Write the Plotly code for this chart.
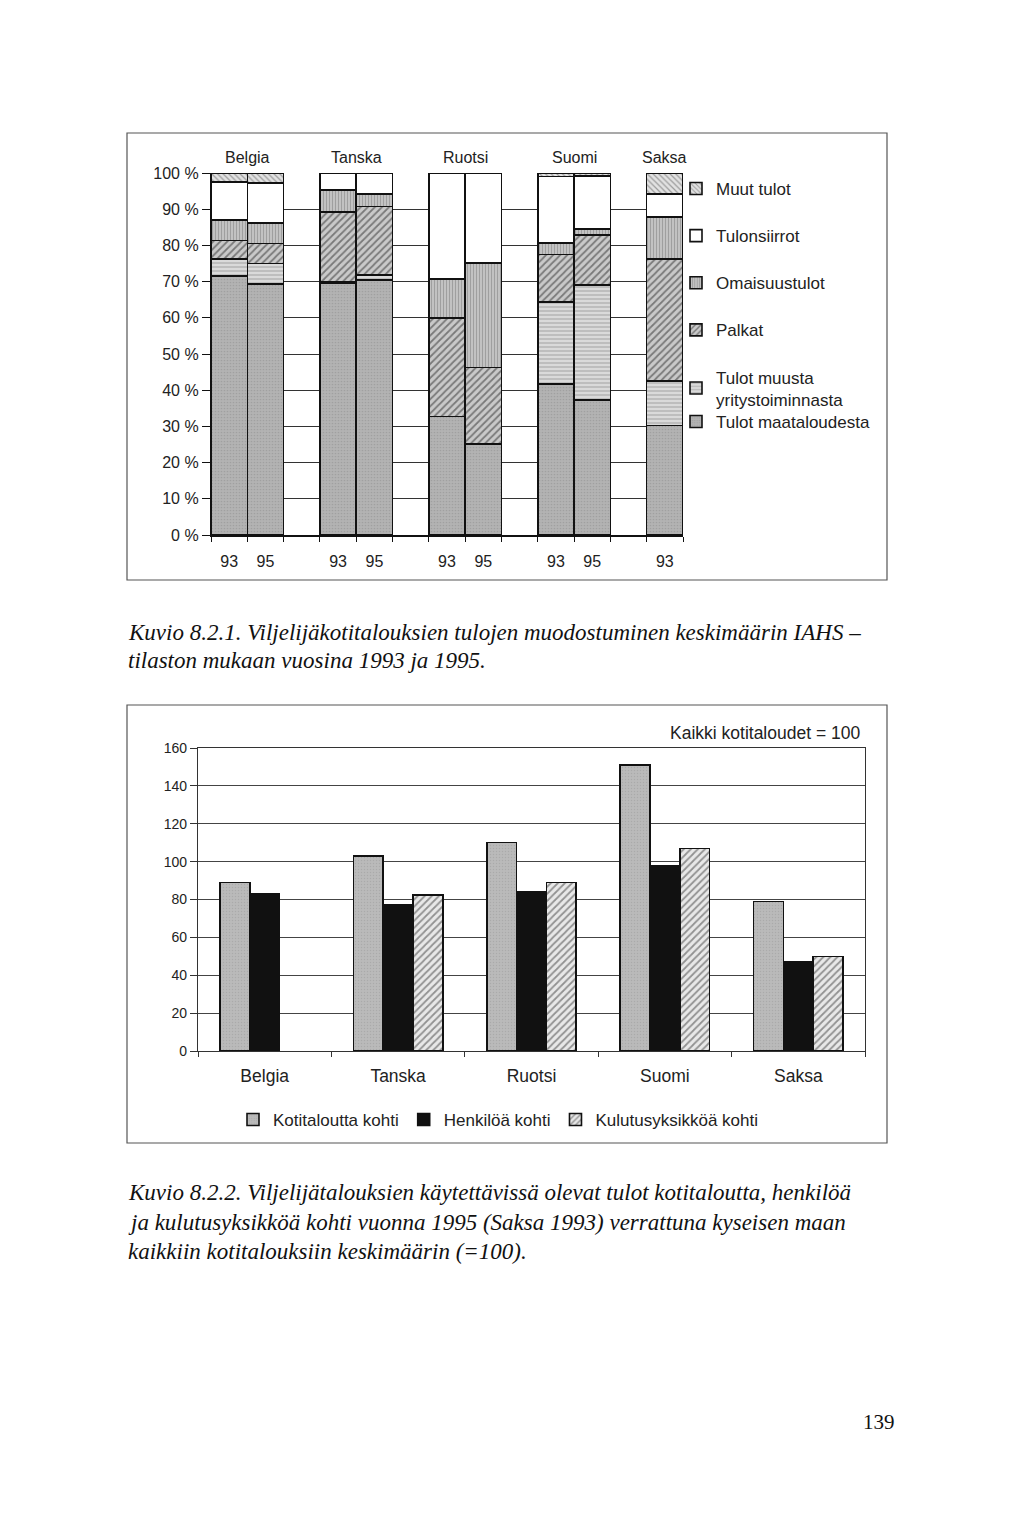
import plotly.graph_objects as go

# ---------------- Data: chart 1 (income structure, %) ----------------
countries1 = ["Belgia", "Tanska", "Ruotsi", "Suomi", "Saksa"]
years1 = [["93", "95"], ["93", "95"], ["93", "95"], ["93", "95"], ["93"]]
# bar order: Belgia 93, 95, Tanska 93, 95, Ruotsi 93, 95, Suomi 93, 95, Saksa 93
maatalous = [71.5, 69.4, 69.6, 70.4, 32.7, 25.1, 41.7, 37.3, 30.2]
muusta = [4.7, 5.6, 0.3, 1.4, 0.0, 0.0, 22.7, 31.8, 12.3]
palkat = [5.1, 5.5, 19.4, 18.9, 27.2, 21.2, 13.1, 13.7, 33.7]
omaisuus = [5.7, 5.7, 6.0, 3.5, 10.8, 28.9, 3.1, 1.7, 11.7]
tulonsiirrot = [10.5, 11.1, 4.7, 5.8, 29.3, 24.8, 18.4, 14.7, 6.3]
muut = [2.5, 2.7, 0.0, 0.0, 0.0, 0.0, 1.0, 0.8, 5.8]
y1_ticks = [0, 10, 20, 30, 40, 50, 60, 70, 80, 90, 100]
y1_ticktext = ["%d %%" % v for v in y1_ticks]

# ---------------- Data: chart 2 (index, all households = 100) --------
countries2 = ["Belgia", "Tanska", "Ruotsi", "Suomi", "Saksa"]
kotitalous = [89, 103, 110, 151, 79]
henkilo = [83, 77, 84, 98, 47]
kulutus = [None, 82.5, 89, 107, 50]
y2_ticks = [0, 20, 40, 60, 80, 100, 120, 140, 160]

W, H = 1024, 1518
OFF = 8  # page body margin
def px(x):
    return (x - OFF) / W
def py(y):
    return 1 - (y - OFF) / H

# positions of bars: each country occupies 3 slots (2 bars + gap)
xpos, xlab, group_centers = [], [], []
for g, ys in enumerate(years1):
    start = g * 3
    for j, yr in enumerate(ys):
        xpos.append(start + j)
        xlab.append(yr)
    group_centers.append(start + (len(ys) - 1) / 2)
n_slots = xpos[-1] + 1

fig = go.Figure()

OUT = dict(color="#111", width=1.6)
series1 = [
    ("Tulot maataloudesta", maatalous, dict(color="#ababab", line=OUT,
        pattern=dict(shape=".", fgcolor="#8e8e8e", bgcolor="#b3b3b3", size=3, solidity=0.25)), "legend3"),
    ("Tulot muusta<br>yritystoiminnasta", muusta, dict(color="#d6d6d6", line=OUT,
        pattern=dict(shape="-", fgcolor="#8a8a8a", bgcolor="#dadada", size=4, solidity=0.35)), "legend"),
    ("Palkat", palkat, dict(color="#bdbdbd", line=OUT,
        pattern=dict(shape="/", fgcolor="#2a2a2a", bgcolor="#c9c9c9", size=5, solidity=0.35)), "legend"),
    ("Omaisuustulot", omaisuus, dict(color="#bcbcbc", line=OUT,
        pattern=dict(shape="|", fgcolor="#777777", bgcolor="#c6c6c6", size=3, solidity=0.4)), "legend"),
    ("Tulonsiirrot", tulonsiirrot, dict(color="#ffffff", line=OUT), "legend"),
    ("Muut tulot", muut, dict(color="#dddddd", line=OUT,
        pattern=dict(shape="\\", fgcolor="#555555", bgcolor="#e2e2e2", size=4, solidity=0.3)), "legend"),
]
nser = len(series1)
for i, (name, vals, mk, lg) in enumerate(series1):
    fig.add_trace(go.Bar(
        x=xpos, y=vals, name=name, marker=mk, width=1.0,
        xaxis="x", yaxis="y", legend=lg, legendgroup="g%d" % i,
        legendrank=nser - i, hoverinfo="name+y"))

series2 = [
    ("Kotitaloutta kohti", kotitalous, dict(color="#b5b5b5", line=dict(color="#111", width=1.6),
        pattern=dict(shape=".", fgcolor="#9a9a9a", bgcolor="#bababa", size=3, solidity=0.2))),
    ("Henkilöä kohti", henkilo, dict(color="#111111", line=dict(color="#111", width=1.6))),
    ("Kulutusyksikköä kohti", kulutus, dict(color="#e6e6e6", line=dict(color="#111", width=1.6),
        pattern=dict(shape="/", fgcolor="#3a3a3a", bgcolor="#e8e8e8", size=5, solidity=0.35))),
]
for k, (name, vals, mk) in enumerate(series2):
    fig.add_trace(go.Bar(
        x=countries2, y=vals, name=name, marker=mk,
        xaxis="x2", yaxis="y2", legend="legend2", offsetgroup=name, legendrank=k + 1))

SANS = "Liberation Sans, Arial, sans-serif"
SERIF = "Liberation Serif, Times New Roman, serif"

fig.update_layout(
    width=W, height=H,
    margin=dict(l=0, r=0, t=0, b=0, autoexpand=False),
    paper_bgcolor="white", plot_bgcolor="white",
    font=dict(family=SANS, size=15, color="#222"),
    barmode="stack",
    showlegend=True,
    xaxis=dict(
        domain=[px(211), px(683)], range=[-0.5, n_slots - 0.5],
        tickmode="array", tickvals=xpos, ticktext=xlab, ticks="",
        ticklabelstandoff=11, tickfont=dict(size=16),
        showgrid=False, zeroline=False, showline=True, linecolor="#111", linewidth=1.5,
        minor=dict(tickmode="array", tickvals=[k - 0.5 for k in range(n_slots + 1)],
                   ticks="outside", ticklen=5, tickcolor="#111", showgrid=False),
        fixedrange=True, automargin=False,
    ),
    yaxis=dict(
        domain=[py(535), py(173)], range=[0, 100],
        tickmode="array", tickvals=y1_ticks, ticktext=y1_ticktext,
        ticks="outside", ticklen=8, tickcolor="#111",
        showgrid=True, gridcolor="#333", gridwidth=1,
        zeroline=False, showline=True, linecolor="#111", linewidth=1.2,
        tickfont=dict(size=16), automargin=False,
    ),
    xaxis2=dict(
        domain=[px(198), px(865)], anchor="y2", type="category",
        tickson="boundaries", ticks="outside", ticklen=5, tickcolor="#333",
        ticklabelstandoff=9, tickfont=dict(size=17.5),
        showgrid=False, showline=True, linecolor="#333", linewidth=1.2, mirror=True,
        automargin=False,
    ),
    yaxis2=dict(
        domain=[py(1051), py(748)], anchor="x2", range=[0, 160],
        tickmode="array", tickvals=y2_ticks,
        ticks="outside", ticklen=7, tickcolor="#333",
        showgrid=True, gridcolor="#444", gridwidth=1,
        zeroline=False, showline=True, linecolor="#333", linewidth=1.2, mirror=True,
        tickfont=dict(size=14), automargin=False,
    ),
    legend=dict(
        x=px(676), y=py(171), xanchor="left", yanchor="top",
        orientation="v", traceorder="grouped", tracegroupgap=22,
        bgcolor="rgba(0,0,0,0)", font=dict(size=17, family=SANS),
        itemclick=False, itemdoubleclick=False,
    ),
    legend3=dict(
        x=px(676), y=py(404), xanchor="left", yanchor="top",
        orientation="v", bgcolor="rgba(0,0,0,0)", font=dict(size=17, family=SANS),
        itemclick=False, itemdoubleclick=False,
    ),
    legend2=dict(
        x=px(233), y=py(1120), xanchor="left", yanchor="middle",
        orientation="h", traceorder="normal", bgcolor="rgba(0,0,0,0)",
        font=dict(size=17, family=SANS),
        itemclick=False, itemdoubleclick=False,
    ),
    bargap=0.33, bargroupgap=0.0,
)

# group labels on top of chart 1
for name, cx in zip(countries1, group_centers):
    fig.add_annotation(x=cx, y=100, xref="x", yref="y", text=name, showarrow=False,
                       yanchor="bottom", yshift=5, font=dict(size=16, family=SANS))

fig.add_annotation(x=px(862), y=py(733), xref="paper", yref="paper",
                   text="Kaikki kotitaloudet = 100", showarrow=False,
                   xanchor="right", yanchor="middle", font=dict(size=17.5, family=SANS))

# frames around charts
for (x0, y0, x1, y1) in [(127, 133, 887, 580), (127, 705, 887, 1143)]:
    fig.add_shape(type="rect", xref="paper", yref="paper",
                  x0=px(x0), x1=px(x1), y0=py(y1), y1=py(y0),
                  line=dict(color="#555", width=1.2), fillcolor="rgba(0,0,0,0)", layer="below")

captions = [
    (632, "Kuvio 8.2.1. Viljelijäkotitalouksien tulojen muodostuminen keskimäärin IAHS –"),
    (660, "tilaston mukaan vuosina 1993 ja 1995."),
    (1192, "Kuvio 8.2.2. Viljelijätalouksien käytettävissä olevat tulot kotitaloutta, henkilöä"),
    (1222, "ja kulutusyksikköä kohti vuonna 1995 (Saksa 1993) verrattuna kyseisen maan"),
    (1251, "kaikkiin kotitalouksiin keskimäärin (=100)."),
]
for yy, txt in captions:
    fig.add_annotation(x=px(126), y=py(yy), xref="paper", yref="paper", text=txt,
                       showarrow=False, xanchor="left", yanchor="middle",
                       font=dict(size=23, family=SERIF, style="italic", color="#111"))

fig.add_annotation(x=px(897), y=py(1422), xref="paper", yref="paper", text="139",
                   showarrow=False, xanchor="right", yanchor="middle",
                   font=dict(size=21, family=SERIF, color="#111"))

fig.write_html("out.html")
